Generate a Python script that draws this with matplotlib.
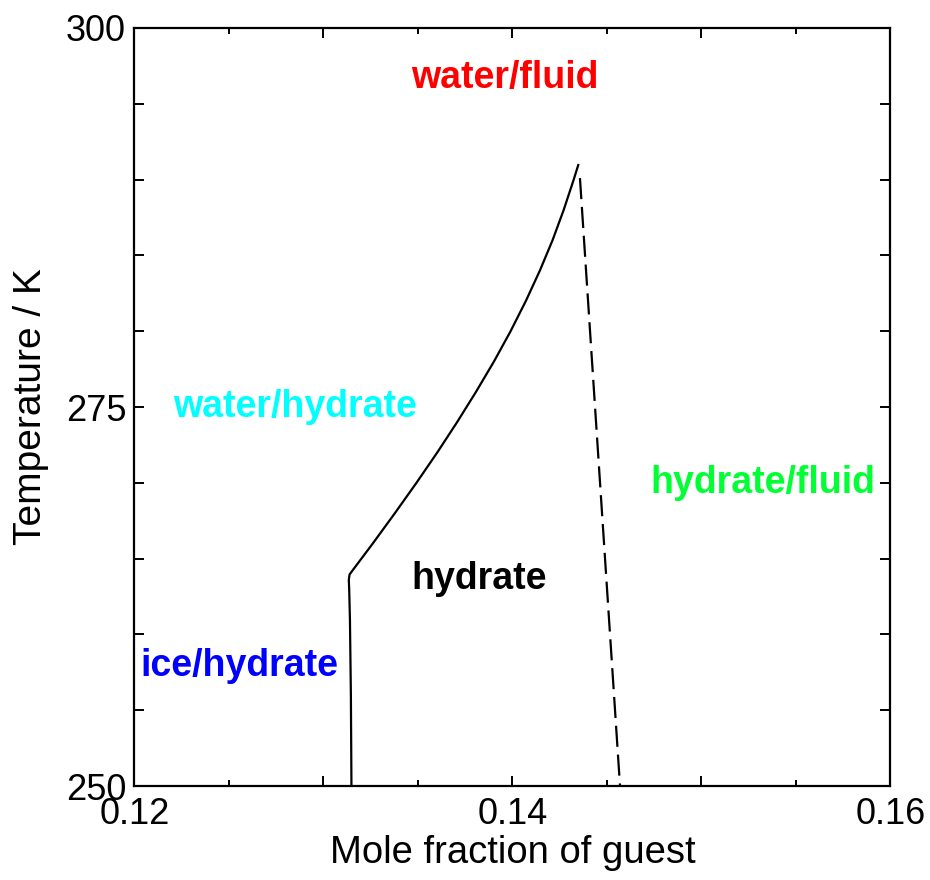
import numpy as np
import matplotlib
matplotlib.use("Agg")
import matplotlib.pyplot as plt
from matplotlib.ticker import MultipleLocator, FuncFormatter

plt.rcParams['font.family'] = ['Liberation Sans', 'DejaVu Sans']

# hydrate stability boundary (solid)
x_solid = [0.13148, 0.13145, 0.13140, 0.13136, 0.13134, 0.13138, 0.13149,
           0.13261, 0.13378, 0.13492, 0.13602, 0.13707, 0.13807, 0.13902,
           0.13990, 0.14071, 0.14145, 0.14212, 0.14271, 0.14324, 0.14348]
t_solid = [250.0, 256.0, 261.0, 263.0, 263.6, 263.95, 264.14,
           266.0, 268.0, 270.0, 272.0, 274.0, 276.0, 278.0,
           280.0, 282.0, 284.0, 286.0, 288.0, 290.0, 290.96]

# hydrate/fluid boundary (dashed)
x_dash = [0.14357, 0.14569]
t_dash = [290.1, 250.0]

# region labels
labels = ['water/fluid', 'water/hydrate', 'hydrate/fluid', 'hydrate', 'ice/hydrate']
label_x = [0.13960, 0.12849, 0.15322, 0.13823, 0.12556]
label_t = [296.7, 275.0, 270.0, 263.65, 257.9]
label_c = ['#ff0000', '#00ffff', '#00ff33', '#000000', '#0000ff']

fig = plt.figure(figsize=(9.3, 8.8), dpi=100)
ax = fig.add_axes([0.1446, 0.1068, 0.8129, 0.8614])

ax.plot(x_solid, t_solid, color='k', lw=1.6)
ax.plot(x_dash, t_dash, color='k', lw=1.6, dashes=(9.5, 3.5))

for s, x, t, c in zip(labels, label_x, label_t, label_c):
    ax.text(x, t, s, color=c, fontsize=27, fontweight='bold',
            ha='center', va='center')

ax.set_xlim(0.12, 0.16)
ax.set_ylim(250, 300)

ax.xaxis.set_major_locator(MultipleLocator(0.01))
ax.xaxis.set_minor_locator(MultipleLocator(0.005))
ax.xaxis.set_major_formatter(FuncFormatter(
    lambda v, p: ('%.2f' % v) if round(v * 100) % 2 == 0 else ''))
ax.yaxis.set_major_locator(MultipleLocator(25))
ax.yaxis.set_minor_locator(MultipleLocator(5))

ax.tick_params(which='both', direction='in', top=True, right=True,
               width=1.4, labelsize=26)
ax.tick_params(axis='x', which='major', length=7, pad=8)
ax.tick_params(axis='x', which='minor', length=4)
ax.tick_params(axis='y', which='both', length=7, pad=6)
for sp in ax.spines.values():
    sp.set_linewidth(1.6)

ax.set_xlabel('Mole fraction of guest', fontsize=27.5, labelpad=2)
ax.set_ylabel('Temperature / K', fontsize=28, labelpad=12)

fig.savefig('out.png', dpi=100)
